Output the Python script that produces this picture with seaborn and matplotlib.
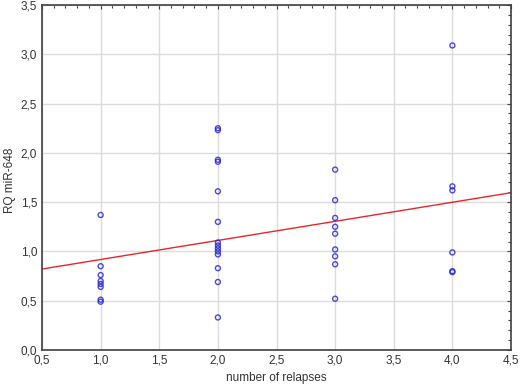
import matplotlib
matplotlib.use("Agg")
import matplotlib.pyplot as plt
import seaborn as sns
import pandas as pd
import numpy as np
from matplotlib.ticker import MultipleLocator, FuncFormatter

relapses_1 = [1.37, 0.85, 0.76, 0.70, 0.67, 0.64, 0.51, 0.49]
relapses_2 = [2.25, 2.23, 1.93, 1.91, 1.61, 1.30, 1.09, 1.06, 1.03, 1.00, 0.97, 0.83, 0.69, 0.33]
relapses_3 = [1.83, 1.52, 1.34, 1.25, 1.18, 1.02, 0.95, 0.87, 0.52]
relapses_4 = [3.09, 1.66, 1.62, 0.99, 0.80, 0.79]

groups = {1: relapses_1, 2: relapses_2, 3: relapses_3, 4: relapses_4}
df = pd.DataFrame(
    [(k, v) for k, vals in groups.items() for v in vals],
    columns=["number of relapses", "RQ miR-648"],
)

sns.set_style("white")
plt.rcParams["font.family"] = ["Liberation Sans", "DejaVu Sans"]

fig = plt.figure(figsize=(5.2, 3.88), dpi=100)
ax = fig.add_axes([0.0808, 0.098, 0.9019, 0.889])
ax.set_xlim(0.5, 4.5)
ax.set_ylim(0.0, 3.5)

sns.regplot(
    data=df, x="number of relapses", y="RQ miR-648", ax=ax, ci=None, truncate=False,
    scatter_kws=dict(s=13, facecolors="none", edgecolors="#1f1fd4", linewidths=1.0, zorder=3),
    line_kws=dict(color="#e8262a", linewidth=1.0, zorder=2),
)
ax.set_xlim(0.5, 4.5)
ax.set_ylim(0.0, 3.5)

ax.xaxis.set_major_locator(MultipleLocator(0.5))
ax.yaxis.set_major_locator(MultipleLocator(0.5))
ax.xaxis.set_minor_locator(MultipleLocator(0.1))
ax.yaxis.set_minor_locator(MultipleLocator(0.1))
fmt = FuncFormatter(lambda v, p: f"{v:.1f}".replace(".", ","))
ax.xaxis.set_major_formatter(fmt)
ax.yaxis.set_major_formatter(fmt)

ax.grid(True, which="major", color="#dcdcdc", linewidth=1.0, zorder=0)
ax.set_axisbelow(True)
ax.tick_params(which="both", direction="in", top=True, right=True, colors="#404040",
               labelcolor="#333333", labelsize=8.5)
ax.tick_params(which="major", length=3, width=0.8)
ax.tick_params(which="minor", length=2, width=0.8)
for s in ax.spines.values():
    s.set_color("#404040")
    s.set_linewidth(1.2)

ax.set_xlabel("number of relapses", fontsize=8.5, color="#333333", labelpad=4)
ax.set_ylabel("RQ miR-648", fontsize=8.5, color="#333333")
ax.yaxis.set_label_coords(-0.055, 0.493)

fig.savefig("out.png", dpi=100)
